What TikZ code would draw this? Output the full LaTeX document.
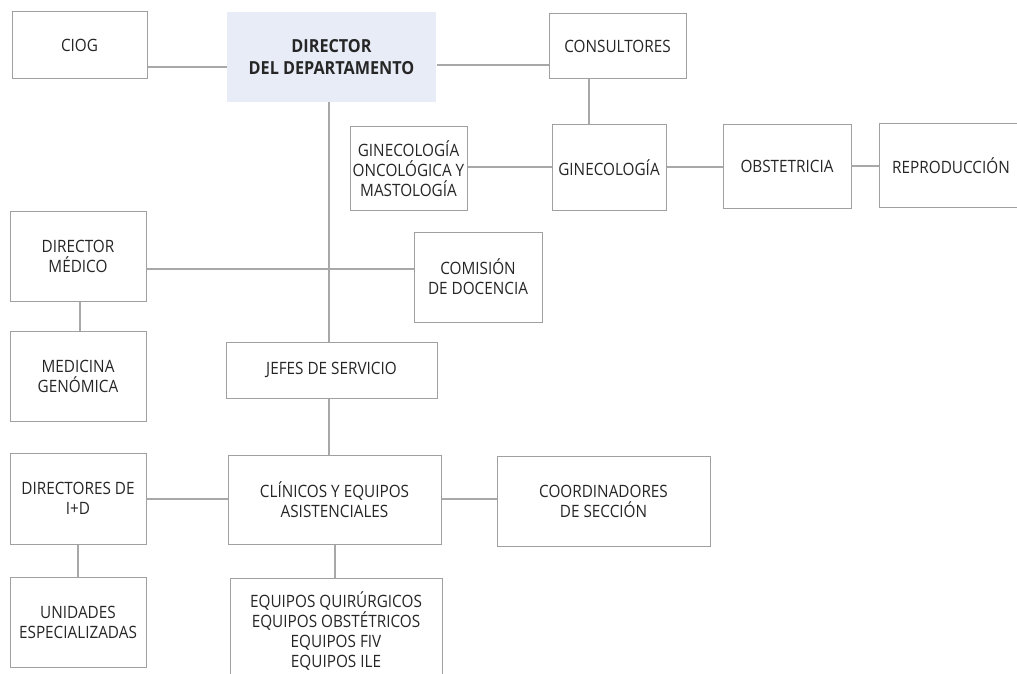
\documentclass[tikz,border=0pt]{standalone}
\usepackage{fontspec}
\setmainfont[FakeStretch=0.9]{Open Sans}
\definecolor{boxline}{HTML}{A0A0A0}
\definecolor{conline}{HTML}{A8A8A8}
\definecolor{txt}{HTML}{262626}
\definecolor{dirfill}{HTML}{E8ECF7}
\begin{document}
\begin{tikzpicture}[x=1pt,y=-1pt,
  box/.style={draw=boxline,line width=1pt,rectangle,inner sep=0pt,align=center,
    text=txt,font=\fontsize{17}{20}\selectfont},
  con/.style={draw=conline,line width=1.2pt}]
\useasboundingbox (0,0) rectangle (1017,674);
\clip (0,0) rectangle (1017,674);
\node[box,minimum width=135,minimum height=67] (ciog) at (79.5,45.5) {CIOG};
\node[box,draw=none,fill=dirfill,minimum width=209,minimum height=90,font=\fontsize{18}{22}\selectfont\bfseries] (dir) at (331.5,57) {DIRECTOR\\DEL DEPARTAMENTO};
\node[box,minimum width=137,minimum height=65] (cons) at (617.5,46.5) {CONSULTORES};
\node[box,minimum width=117,minimum height=83] (gonc) at (408.5,168.5) {GINECOLOGÍA\\ONCOLÓGICA Y\\MASTOLOGÍA};
\node[box,minimum width=114,minimum height=85] (gine) at (609,167.5) {GINECOLOGÍA};
\node[box,minimum width=128,minimum height=83] (obst) at (787,166.5) {OBSTETRICIA};
\node[box,minimum width=144,minimum height=83] (repr) at (951,165.5) {REPRODUCCIÓN};
\node[box,minimum width=136,minimum height=90] (dmed) at (78,256) {DIRECTOR\\MÉDICO};
\node[box,minimum width=128,minimum height=90] (comi) at (478,277) {COMISIÓN\\DE DOCENCIA};
\node[box,minimum width=136,minimum height=90] (mgen) at (78,376) {MEDICINA\\GENÓMICA};
\node[box,minimum width=211,minimum height=56] (jefes) at (331.5,370) {JEFES DE SERVICIO};
\node[box,minimum width=136,minimum height=91] (dird) at (78,498.5) {DIRECTORES DE\\I+D};
\node[box,minimum width=213,minimum height=89] (clin) at (334.5,499.5) {CLÍNICOS Y EQUIPOS\\ASISTENCIALES};
\node[box,minimum width=213,minimum height=90] (coord) at (603.5,501) {COORDINADORES\\DE SECCIÓN};
\node[box,minimum width=136,minimum height=90] (unid) at (78,622) {UNIDADES\\ESPECIALIZADAS};
\node[box,minimum width=212,minimum height=106] (equip) at (336,631) {EQUIPOS QUIRÚRGICOS\\EQUIPOS OBSTÉTRICOS\\EQUIPOS FIV\\EQUIPOS ILE};
\coordinate (dmedr) at (146,269);
\draw[con] (ciog.east |- 0,67) -- (dir.west |- 0,67);
\draw[con] (dir.east |- 0,65) -- (cons.west |- 0,65);
\draw[con] (cons.south -| 589,0) -- (gine.north -| 589,0);
\draw[con] (gonc.east |- 0,167) -- (gine.west |- 0,167);
\draw[con] (gine.east |- 0,167) -- (obst.west |- 0,167);
\draw[con] (obst.east |- 0,166) -- (repr.west |- 0,166);
\draw[con] (dir.south -| 329,0) -- (jefes.north -| 329,0);
\draw[con] (dmed.east |- dmedr) -- (comi.west |- dmedr);
\draw[con] (dmed.south -| 80,0) -- (mgen.north -| 80,0);
\draw[con] (jefes.south -| 329,0) -- (clin.north -| 329,0);
\draw[con] (dird.east |- 0,499) -- (clin.west |- 0,499);
\draw[con] (clin.east |- 0,499) -- (coord.west |- 0,499);
\draw[con] (dird.south -| 78,0) -- (unid.north -| 78,0);
\draw[con] (clin.south -| 335,0) -- (equip.north -| 335,0);
\end{tikzpicture}
\end{document}
